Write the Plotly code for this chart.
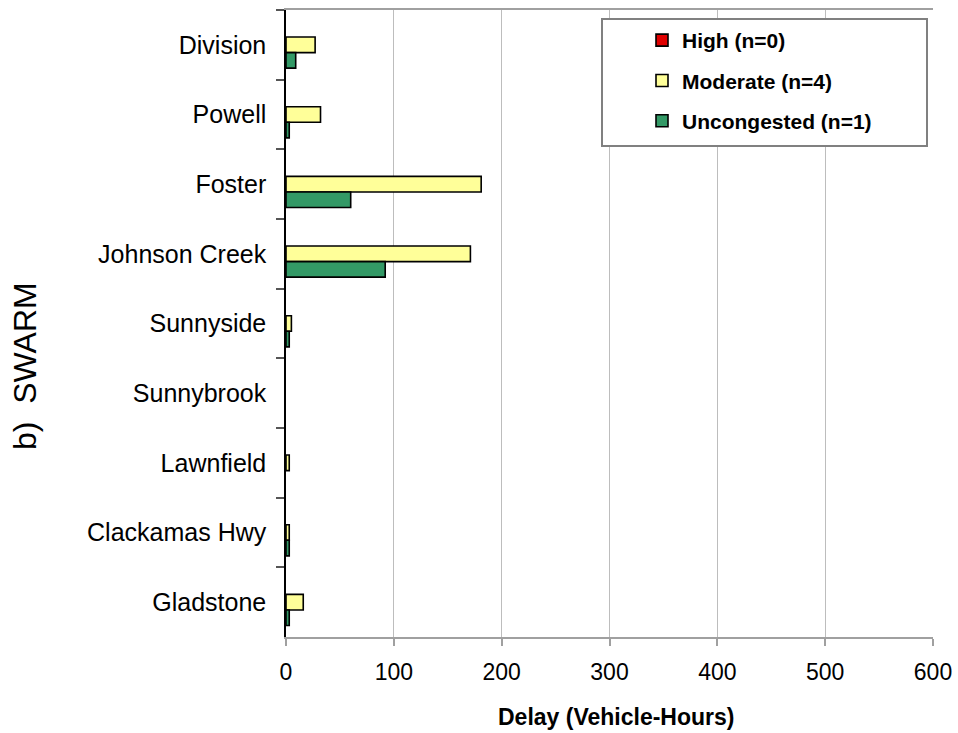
import plotly.graph_objects as go

categories = ["Division", "Powell", "Foster", "Johnson Creek", "Sunnyside",
              "Sunnybrook", "Lawnfield", "Clackamas Hwy", "Gladstone"]
high = [0, 0, 0, 0, 0, 0, 0, 0, 0]
moderate = [27, 32, 181, 171, 5, 0, 3, 3, 16]
uncongested = [9, 3, 60, 92, 3, 0, 0, 3, 3]
series_names = ["High (n=0)", "Moderate (n=4)", "Uncongested (n=1)"]
series_values = [high, moderate, uncongested]
series_colors = ["#e00000", "#ffff99", "#339966"]
x_ticks = [0, 100, 200, 300, 400, 500, 600]

FONT = "Liberation Sans, Arial, sans-serif"

fig = go.Figure()
for i, (name, vals, col) in enumerate(zip(series_names, series_values, series_colors)):
    # zero values are not drawn (as in the original chart)
    xs = [v if v != 0 else None for v in vals]
    fig.add_trace(go.Bar(
        y=categories, x=xs, name=name, orientation="h",
        marker=dict(color=col, line=dict(color="black", width=1.6)),
        legendgroup=f"g{i}",
    ))

# the page margin is removed (see post_script), so figure == page coordinates
W, H = 958, 733
L, R, T, B = 286, 25, 10, 96
pw, ph = W - L - R, H - T - B

def px(xpage):
    return (xpage - L) / pw

def py(ypage):
    return (H - B - ypage) / ph

fig.update_layout(
    width=W, height=H,
    margin=dict(l=L, r=R, t=T, b=B, pad=0, autoexpand=False),
    paper_bgcolor="white", plot_bgcolor="white",
    barmode="group", bargap=0.33, bargroupgap=0,
    font=dict(family=FONT, color="black"),
    showlegend=True,
    legend=dict(
        x=px(642), y=py(20), xanchor="left", yanchor="top",
        bgcolor="rgba(0,0,0,0)", borderwidth=0,
        font=dict(family=FONT, size=21, color="black", weight="bold"),
        traceorder="grouped", tracegroupgap=10,
    ),
    xaxis=dict(
        range=[0, 600], tickvals=x_ticks, ticktext=[str(v) for v in x_ticks],
        showgrid=True, gridcolor="#bdbdbd", gridwidth=1,
        showline=True, linecolor="#a0a0a0", linewidth=1.5, mirror=True,
        ticks="outside", ticklen=7, tickcolor="#a0a0a0", tickwidth=1.5,
        tickfont=dict(family=FONT, size=23, color="black"),
        ticklabelstandoff=7, automargin=False,
        zeroline=False, fixedrange=True,
    ),
    yaxis=dict(
        categoryorder="array", categoryarray=categories, autorange="reversed",
        showline=True, linecolor="black", linewidth=1.5,
        ticks="outside", tickson="boundaries", ticklen=8, tickcolor="#555555", tickwidth=1.5,
        tickfont=dict(family=FONT, size=25, color="black"),
        ticklabelstandoff=13, automargin=False,
        showgrid=False, zeroline=False, fixedrange=True,
    ),
    shapes=[dict(
        type="rect", xref="paper", yref="paper",
        x0=px(602), x1=px(927), y0=py(146), y1=py(19),
        line=dict(color="#808080", width=2), fillcolor="white", layer="above",
    )],
    annotations=[
        dict(text="b)\u00a0\u00a0SWARM", xref="paper", yref="paper",
             x=px(25), y=py(366), xanchor="center", yanchor="middle",
             textangle=-90, showarrow=False,
             font=dict(family=FONT, size=32, color="black")),
        dict(text="<b>Delay (Vehicle-Hours)</b>", xref="paper", yref="paper",
             x=px(616), y=py(717), xanchor="center", yanchor="middle",
             showarrow=False,
             font=dict(family=FONT, size=23, color="black")),
    ],
)

fig.write_html(
    "out.html",
    config={"displayModeBar": False},
    post_script="document.body.style.margin='0';document.body.style.overflow='hidden';",
)
